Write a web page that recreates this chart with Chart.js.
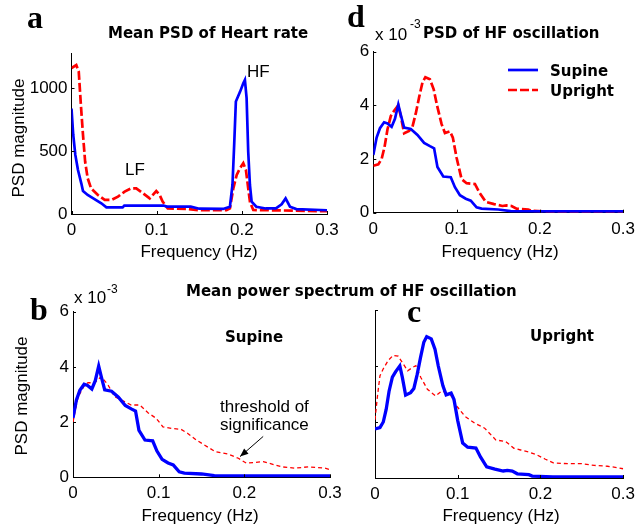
<!DOCTYPE html>
<html><head><meta charset="utf-8">
<script src="https://cdn.jsdelivr.net/npm/chart.js@4.4.1/dist/chart.umd.min.js"></script>
<style>
html,body{margin:0;padding:0;background:#fff;}
#wrap{position:relative;width:641px;height:527px;overflow:hidden;background:#fff;}
canvas{position:absolute;left:0;top:0;}
.t{position:absolute;white-space:nowrap;line-height:1;color:#000;}
.bt{font-family:"DejaVu Sans";font-weight:bold;font-size:15px;}
.nt{font-family:"Liberation Sans",Arial;font-size:17px;}
.sm{font-family:"Liberation Sans",Arial;font-size:12px;}
.lt{font-family:"Liberation Serif";font-weight:bold;font-size:32px;}
</style></head><body>
<div id="wrap">
<canvas id="cA" width="641" height="527"></canvas>
<canvas id="cD" width="641" height="527"></canvas>
<canvas id="cB" width="641" height="527"></canvas>
<canvas id="cC" width="641" height="527"></canvas>
</div>
<script>
// ---------- DATA ----------
const freqTicks = [0, 0.1, 0.2, 0.3];
const hrTicks = [0, 500, 1000];
const hfTicks = [0, 2, 4, 6];

// Panel a: mean PSD of heart rate
const hrSupineF = [0, 0.002, 0.0045, 0.0076, 0.0115, 0.0135, 0.019, 0.027, 0.035, 0.041, 0.06, 0.062, 0.108, 0.112, 0.14, 0.15, 0.178, 0.186, 0.189, 0.191, 0.193, 0.198, 0.2017, 0.2036, 0.2056, 0.2075, 0.2095, 0.2115, 0.217, 0.228, 0.24, 0.2467, 0.2514, 0.2565, 0.264, 0.3];
const hrSupineV = [839, 632, 470, 350, 244, 183, 151, 119, 85, 53, 53, 67, 67, 59, 59, 42, 40, 58, 231, 549, 894, 973, 1040, 1066, 921, 495, 231, 98, 58, 44, 44, 77, 124, 58, 39, 30];
const hrUprightF = [0, 0.0056, 0.0085, 0.011, 0.0135, 0.016, 0.019, 0.023, 0.031, 0.039, 0.047, 0.0546, 0.0624, 0.070, 0.076, 0.084, 0.0918, 0.0995, 0.1035, 0.107, 0.113, 0.135, 0.15, 0.182, 0.186, 0.19, 0.194, 0.1978, 0.2017, 0.2048, 0.2075, 0.2095, 0.2134, 0.3];
const hrUprightV = [1160, 1184, 1133, 869, 629, 417, 284, 204, 151, 112, 112, 138, 178, 204, 204, 165, 124, 183, 151, 99, 44, 40, 30, 30, 44, 204, 311, 363, 404, 350, 204, 98, 32, 22];

// HF oscillation spectra (x 10^-3)
const hfSupineF = [0, 0.004, 0.008, 0.013, 0.017, 0.022, 0.026, 0.030, 0.033, 0.037, 0.045, 0.053, 0.061, 0.068, 0.073, 0.077, 0.084, 0.093, 0.098, 0.104, 0.111, 0.117, 0.124, 0.130, 0.150, 0.165, 0.2, 0.3];
const hfSupineV = [2.15, 2.8, 3.15, 3.37, 3.33, 3.2, 3.5, 4.03, 3.65, 3.17, 3.12, 2.9, 2.6, 2.48, 2.4, 1.7, 1.35, 1.32, 0.95, 0.65, 0.52, 0.45, 0.2, 0.15, 0.12, 0.06, 0.05, 0.05];
const hfUprightF = [0, 0.006, 0.01, 0.0135, 0.017, 0.021, 0.025, 0.030, 0.033, 0.037, 0.043, 0.047, 0.051, 0.055, 0.059, 0.0625, 0.068, 0.0725, 0.0765, 0.082, 0.086, 0.092, 0.0955, 0.100, 0.106, 0.112, 0.122, 0.1275, 0.135, 0.145, 0.155, 0.16, 0.166, 0.172, 0.186, 0.19, 0.215, 0.3];
const hfUprightV = [1.75, 1.8, 2.0, 2.45, 3.1, 3.6, 3.8, 4.0, 3.6, 2.96, 3.05, 3.2, 3.7, 4.3, 4.85, 5.05, 4.97, 4.6, 4.0, 3.3, 2.97, 3.03, 2.8, 2.05, 1.25, 1.1, 1.07, 0.75, 0.4, 0.32, 0.25, 0.27, 0.25, 0.15, 0.12, 0.07, 0.04, 0.04];
// thresholds of significance
const thrSupineF = [0, 0.006, 0.0136, 0.0175, 0.025, 0.033, 0.041, 0.0486, 0.0564, 0.068, 0.078, 0.0875, 0.097, 0.105, 0.115, 0.126, 0.134, 0.144, 0.166, 0.181, 0.193, 0.2025, 0.222, 0.2435, 0.259, 0.275, 0.294, 0.3];
const thrSupineV = [2.0, 2.92, 3.34, 3.43, 3.42, 3.65, 3.34, 2.92, 2.8, 2.62, 2.62, 2.34, 2.14, 1.83, 1.77, 1.74, 1.59, 1.35, 0.93, 0.84, 0.69, 0.51, 0.57, 0.38, 0.33, 0.38, 0.33, 0.28];
const thrUprightF = [0, 0.003, 0.006, 0.01, 0.016, 0.022, 0.028, 0.034, 0.0395, 0.0455, 0.0494, 0.0554, 0.0633, 0.0731, 0.081, 0.091, 0.0988, 0.1088, 0.1206, 0.1325, 0.146, 0.158, 0.168, 0.176, 0.186, 0.196, 0.206, 0.2155, 0.233, 0.25, 0.265, 0.281, 0.293, 0.3];
const thrUprightV = [2.08, 2.93, 3.65, 3.9, 4.2, 4.38, 4.35, 4.08, 3.83, 3.95, 4.01, 3.59, 3.17, 2.93, 3.11, 2.99, 2.57, 2.2, 1.96, 1.78, 1.36, 1.3, 1.06, 1.0, 0.93, 0.82, 0.67, 0.54, 0.51, 0.51, 0.45, 0.42, 0.37, 0.33];

// ---------- STYLE ----------
const BLUE = '#0000ff', RED = '#ff0000';
const W = 641, H = 527, YW = 45, XH = 30;
const tickFont = {family: '"Liberation Sans", Arial', size: 17};

function pts(F, V) { return F.map((f, i) => ({x: f, y: V[i]})); }

const inTicks = {
  id: 'inTicks',
  afterDatasetsDraw(chart) {
    const {ctx, chartArea: a, scales: {x, y}} = chart;
    ctx.save(); ctx.strokeStyle = '#000'; ctx.lineWidth = 1;
    x.ticks.forEach(t => { const p = Math.round(x.getPixelForValue(t.value)) + 0.5;
      ctx.beginPath(); ctx.moveTo(p, a.bottom); ctx.lineTo(p, a.bottom - 3); ctx.stroke(); });
    y.ticks.forEach(t => { const p = Math.round(y.getPixelForValue(t.value)) + 0.5;
      ctx.beginPath(); ctx.moveTo(a.left, p); ctx.lineTo(a.left + 3, p); ctx.stroke(); });
    ctx.restore();
  }
};

function panel(id, area, yMax, yTicks, showY, datasets, plugins) {
  return new Chart(document.getElementById(id), {
    type: 'line',
    data: {datasets},
    options: {
      responsive: false, animation: false, devicePixelRatio: 1,
      layout: {padding: {left: area.left - YW, right: W - area.right, top: area.top, bottom: H - area.bottom - XH}},
      plugins: {legend: {display: false}, tooltip: {enabled: false}},
      elements: {point: {radius: 0}, line: {tension: 0, borderJoinStyle: 'miter'}},
      scales: {
        x: {type: 'linear', min: 0, max: 0.3,
          afterBuildTicks: s => { s.ticks = freqTicks.map(v => ({value: v})); },
          afterFit: s => { s.height = XH; },
          grid: {display: false, drawTicks: false},
          border: {display: true, color: '#000', width: 1},
          ticks: {color: '#000', font: tickFont, padding: 6, maxRotation: 0,
            callback: v => v === 0 ? '0' : String(v)}},
        y: {type: 'linear', min: 0, max: yMax,
          afterBuildTicks: s => { s.ticks = yTicks.map(v => ({value: v})); },
          afterFit: s => { s.width = YW; },
          grid: {display: false, drawTicks: false},
          border: {display: true, color: '#000', width: 1},
          ticks: {display: showY, color: '#000', font: tickFont, padding: 4, callback: v => String(v)}}
      }
    },
    plugins: [inTicks].concat(plugins || [])
  });
}

const solid = (F, V, w) => ({data: pts(F, V), borderColor: BLUE, borderWidth: w, fill: false});
const dashed = (F, V, w, dash) => ({data: pts(F, V), borderColor: RED, borderWidth: w, borderDash: dash, fill: false});

// Panel a
panel('cA', {left: 71.5, right: 327, top: 53, bottom: 214}, 1280, hrTicks, true, [
  solid(hrSupineF, hrSupineV, 2.7),
  dashed(hrUprightF, hrUprightV, 2.7, [9, 3])
]);

// Panel d with legend
const legendPlug = {
  id: 'legendD',
  afterDraw(chart) {
    const ctx = chart.ctx; ctx.save();
    ctx.lineWidth = 2.7;
    ctx.strokeStyle = BLUE; ctx.setLineDash([]);
    ctx.beginPath(); ctx.moveTo(508, 70); ctx.lineTo(538, 70); ctx.stroke();
    ctx.strokeStyle = RED; ctx.setLineDash([9, 3]);
    ctx.beginPath(); ctx.moveTo(508, 90); ctx.lineTo(538, 90); ctx.stroke();
    ctx.restore();
  }
};
panel('cD', {left: 373.3, right: 627.4, top: 51.7, bottom: 212.7}, 6, hfTicks, true, [
  solid(hfSupineF, hfSupineV, 2.7),
  dashed(hfUprightF, hfUprightV, 2.7, [9, 3])
], [legendPlug]);

// Panel b with arrow
const arrowPlug = {
  id: 'arrowB',
  afterDraw(chart) {
    const {ctx, scales: {x, y}} = chart;
    const x1 = x.getPixelForValue(0.222), y1 = y.getPixelForValue(1.48);
    const x2 = x.getPixelForValue(0.195), y2 = y.getPixelForValue(0.75);
    const ang = Math.atan2(y2 - y1, x2 - x1), L = 9, A = 0.38;
    ctx.save(); ctx.strokeStyle = '#000'; ctx.fillStyle = '#000'; ctx.lineWidth = 1;
    ctx.beginPath(); ctx.moveTo(x1, y1); ctx.lineTo(x2, y2); ctx.stroke();
    ctx.beginPath(); ctx.moveTo(x2, y2);
    ctx.lineTo(x2 - L * Math.cos(ang - A), y2 - L * Math.sin(ang - A));
    ctx.lineTo(x2 - L * Math.cos(ang + A), y2 - L * Math.sin(ang + A));
    ctx.closePath(); ctx.fill();
    ctx.restore();
  }
};
panel('cB', {left: 73, right: 330, top: 311.7, bottom: 477.3}, 6, hfTicks, true, [
  solid(hfSupineF, hfSupineV, 3.3),
  dashed(thrSupineF, thrSupineV, 1.3, [4, 3])
], [arrowPlug]);

// Panel c
panel('cC', {left: 375, right: 628, top: 310, bottom: 478}, 6, hfTicks, false, [
  solid(hfUprightF, hfUprightV, 3.3),
  dashed(thrUprightF, thrUprightV, 1.3, [4, 3])
]);

// ---------- TEXT ----------
const wrap = document.getElementById('wrap');
function txt(s, x, base, cls, fs, center) {
  const d = document.createElement('div');
  d.className = 't ' + cls; d.textContent = s;
  d.style.left = x + 'px'; d.style.top = (base - 0.845 * fs) + 'px';
  if (center) d.style.transform = 'translateX(-50%)';
  wrap.appendChild(d);
}
function vtxt(s, cx, cy) {
  const d = document.createElement('div');
  d.className = 't nt'; d.textContent = s;
  d.style.left = cx + 'px'; d.style.top = cy + 'px';
  d.style.transform = 'translate(-50%,-50%) rotate(-90deg)';
  wrap.appendChild(d);
}
txt('a', 27, 28, 'lt', 32); txt('d', 347, 27, 'lt', 32);
txt('b', 30, 320, 'lt', 32); txt('c', 407, 322, 'lt', 32);
txt('Mean PSD of Heart rate', 108, 39, 'bt', 15);
txt('PSD of HF oscillation', 423, 39, 'bt', 15);
txt('Mean power spectrum of HF oscillation', 186, 297, 'bt', 15);
txt('Supine', 225, 343, 'bt', 15);
txt('Upright', 530, 342, 'bt', 15);
txt('Supine', 550, 76.5, 'bt', 15);
txt('Upright', 550, 96.5, 'bt', 15);
txt('LF', 125, 175, 'nt', 17);
txt('HF', 247, 77, 'nt', 17);
txt('threshold of', 220, 412, 'nt', 17);
txt('significance', 220, 430.5, 'nt', 17);
txt('Frequency (Hz)', 199, 257, 'nt', 17, true);
txt('Frequency (Hz)', 500, 257, 'nt', 17, true);
txt('Frequency (Hz)', 200, 521.5, 'nt', 17, true);
txt('Frequency (Hz)', 501, 521, 'nt', 17, true);
txt('x 10', 375, 40, 'nt', 17); txt('-3', 410, 28.5, 'sm', 12);
txt('x 10', 74, 303.5, 'nt', 17); txt('-3', 107, 293, 'sm', 12);
vtxt('PSD magnitude', 17.5, 138);
vtxt('PSD magnitude', 20.5, 396);
</script>
</body></html>
